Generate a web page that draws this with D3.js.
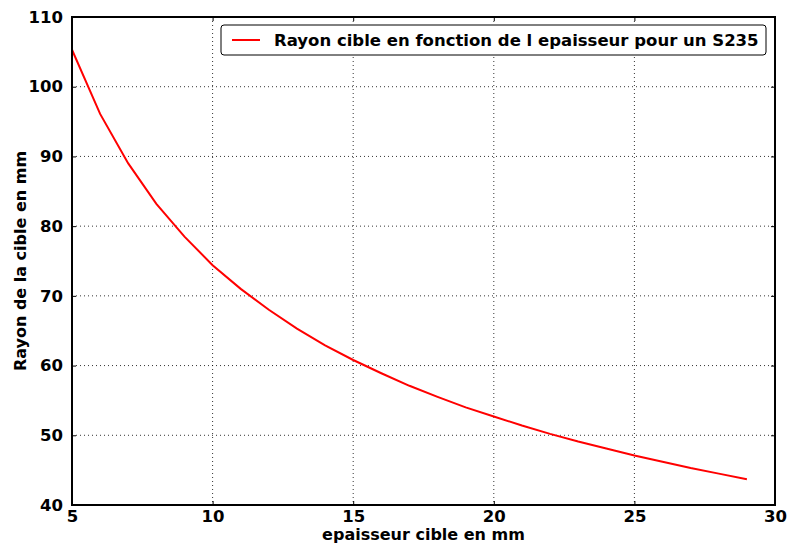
<!DOCTYPE html>
<html>
<head>
<meta charset="utf-8">
<script src="https://cdn.jsdelivr.net/npm/d3@7"></script>
<style>
  body { margin: 0; background: #fff; }
  text { font-family: "DejaVu Sans", sans-serif; font-weight: bold; }
</style>
</head>
<body>
<div id="chart"></div>
<script>
// thickness (mm) and target radius (mm)
var epaisseur = [5, 6, 7, 8, 9, 10, 11, 12, 13, 14, 15, 16, 17, 18, 19, 20, 21, 22, 23, 24, 25, 26, 27, 28, 29];
var rayon = [105.3, 96.1, 89.0, 83.2, 78.5, 74.4, 71.0, 68.0, 65.3, 62.9, 60.8, 58.9, 57.1, 55.5, 54.0, 52.7, 51.4, 50.2, 49.1, 48.1, 47.1, 46.2, 45.3, 44.5, 43.7];
var xTicks = [5, 10, 15, 20, 25, 30];
var yTicks = [40, 50, 60, 70, 80, 90, 100, 110];
var legendLabel = "Rayon cible en fonction de l epaisseur pour un S235";

var w = 787, h = 545;
var m = { left: 72, top: 17, right: 12, bottom: 40 };
var iw = w - m.left - m.right, ih = h - m.top - m.bottom;

var svg = d3.select("#chart").append("svg").attr("width", w).attr("height", h);
var g = svg.append("g").attr("transform", "translate(" + m.left + "," + m.top + ")");

var x = d3.scaleLinear().domain([5, 30]).range([0, iw]);
var y = d3.scaleLinear().domain([40, 110]).range([ih, 0]);

// dotted grid
g.selectAll(".gx").data(xTicks).enter().append("line")
  .attr("x1", d => x(d)).attr("x2", d => x(d)).attr("y1", 0).attr("y2", ih)
  .attr("stroke", "#000").attr("stroke-width", 0.8).attr("stroke-dasharray", "1,3");
g.selectAll(".gy").data(yTicks).enter().append("line")
  .attr("y1", d => y(d)).attr("y2", d => y(d)).attr("x1", 0).attr("x2", iw)
  .attr("stroke", "#000").attr("stroke-width", 0.8).attr("stroke-dasharray", "1,3");

// axes with inward ticks
function styleAxis(sel) {
  sel.select(".domain").remove();
  sel.selectAll("text").attr("font-size", "16.5px").attr("fill", "#000");
  sel.selectAll("line").attr("stroke", "#000");
}
g.append("g").attr("transform", "translate(0," + ih + ")")
  .call(d3.axisBottom(x).tickValues(xTicks).tickSizeInner(-4).tickPadding(5).tickFormat(d3.format("d")))
  .call(styleAxis);
g.append("g")
  .call(d3.axisLeft(y).tickValues(yTicks).tickSizeInner(-4).tickPadding(9).tickFormat(d3.format("d")))
  .call(styleAxis);
g.append("g")
  .call(d3.axisTop(x).tickValues(xTicks).tickSizeInner(-4).tickFormat(""))
  .call(styleAxis);
g.append("g").attr("transform", "translate(" + iw + ",0)")
  .call(d3.axisRight(y).tickValues(yTicks).tickSizeInner(-4).tickFormat(""))
  .call(styleAxis);

// the curve
var line = d3.line().x((d, i) => x(epaisseur[i])).y(d => y(d));
g.append("path").datum(rayon).attr("d", line)
  .attr("fill", "none").attr("stroke", "#ff0000").attr("stroke-width", 2);

// frame
g.append("rect").attr("width", iw).attr("height", ih)
  .attr("fill", "none").attr("stroke", "#000").attr("stroke-width", 2);

// axis labels
svg.append("text").attr("x", m.left + iw / 2).attr("y", 540)
  .attr("text-anchor", "middle").attr("font-size", "16px").text("epaisseur cible en mm");
svg.append("text").attr("transform", "translate(26," + (m.top + ih / 2) + ") rotate(-90)")
  .attr("text-anchor", "middle").attr("font-size", "16px").text("Rayon de la cible en mm");

// legend
var lg = g.append("g").attr("transform", "translate(" + (iw - 554) + ",8)");
lg.append("rect").attr("width", 545).attr("height", 30).attr("rx", 3)
  .attr("fill", "#fff").attr("stroke", "#000").attr("stroke-width", 1);
lg.append("line").attr("x1", 11).attr("x2", 39).attr("y1", 15).attr("y2", 15)
  .attr("stroke", "#ff0000").attr("stroke-width", 2);
lg.append("text").attr("x", 53).attr("y", 21).attr("font-size", "16.5px").text(legendLabel);
</script>
</body>
</html>
